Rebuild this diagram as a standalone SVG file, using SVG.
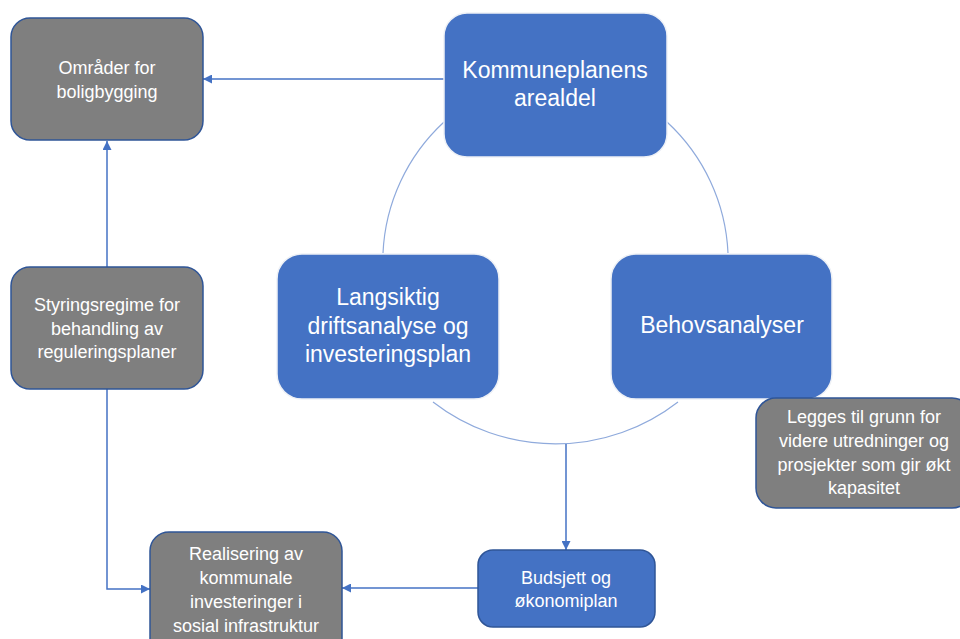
<svg xmlns="http://www.w3.org/2000/svg" width="960" height="639" viewBox="0 0 960 639">
<defs>
<style>
.gray{fill:#7f7f7f;stroke:#2f5597;stroke-width:1.5}
.blue{fill:#4472c4;stroke:#eef1f6;stroke-width:1.5}
.t{font-family:"Liberation Sans",Arial,sans-serif;fill:#ffffff;text-anchor:middle}
.s{font-size:18px}
.b{font-size:23px}
.arc{fill:none;stroke:#8faadc;stroke-width:1.2}
.con{fill:none;stroke:#4472c4;stroke-width:1.5}
</style>
<marker id="ah" viewBox="0 0 10 10" refX="10" refY="5" markerWidth="9" markerHeight="9" orient="auto" markerUnits="userSpaceOnUse">
<path d="M0,0 L10,5 L0,10 z" fill="#4472c4"/>
</marker>
</defs>
<rect width="960" height="639" fill="#ffffff"/>
<g id="connectors">
<path class="arc" d="M444,122 A190,190 0 0 0 383,253"/>
<path class="arc" d="M667,122 A190,190 0 0 1 728,253"/>
<path class="arc" d="M433,402 A200,200 0 0 0 678,402"/>
<path class="con" d="M444,79 L203,79" marker-end="url(#ah)"/>
<path class="con" d="M107,267 L107,141" marker-end="url(#ah)"/>
<path class="con" d="M107,389 L107,589 L150,589" marker-end="url(#ah)"/>
<path class="con" d="M478,588 L342,588" marker-end="url(#ah)"/>
<path class="con" d="M566,444 L566,550" marker-end="url(#ah)"/>
</g>
<g id="omrader">
<rect class="gray" x="11" y="18" width="192" height="122" rx="19"/>
<text class="t s" x="107" y="74">Områder for</text>
<text class="t s" x="107" y="98">boligbygging</text>
</g>
<g id="kommuneplanens">
<rect class="blue" x="444" y="13" width="223" height="144" rx="23"/>
<text class="t b" x="555" y="78">Kommuneplanens</text>
<text class="t b" x="555" y="106">arealdel</text>
</g>
<g id="langsiktig">
<rect class="blue" x="277" y="254" width="222" height="145" rx="25"/>
<text class="t b" x="388" y="305">Langsiktig</text>
<text class="t b" x="388" y="334">driftsanalyse og</text>
<text class="t b" x="388" y="362">investeringsplan</text>
</g>
<g id="behovsanalyser">
<rect class="blue" x="611" y="254" width="221" height="145" rx="25"/>
<text class="t b" x="722" y="333">Behovsanalyser</text>
</g>
<g id="styringsregime">
<rect class="gray" x="11" y="267" width="192" height="122" rx="19"/>
<text class="t s" x="107" y="311">Styringsregime for</text>
<text class="t s" x="107" y="335">behandling av</text>
<text class="t s" x="107" y="358">reguleringsplaner</text>
</g>
<g id="legges">
<rect class="gray" x="756" y="398" width="216" height="110" rx="20"/>
<text class="t s" x="864" y="423">Legges til grunn for</text>
<text class="t s" x="864" y="447">videre utredninger og</text>
<text class="t s" x="864" y="471">prosjekter som gir økt</text>
<text class="t s" x="864" y="494">kapasitet</text>
</g>
<g id="budsjett">
<rect class="blue" x="478" y="550" width="177" height="77" rx="15" style="stroke:#2f5597"/>
<text class="t s" x="566" y="584">Budsjett og</text>
<text class="t s" x="566" y="607">økonomiplan</text>
</g>
<g id="realisering">
<rect class="gray" x="150" y="532" width="192" height="130" rx="19"/>
<text class="t s" x="246" y="560">Realisering av</text>
<text class="t s" x="246" y="584">kommunale</text>
<text class="t s" x="246" y="608">investeringer i</text>
<text class="t s" x="246" y="632">sosial infrastruktur</text>
</g>
</svg>
